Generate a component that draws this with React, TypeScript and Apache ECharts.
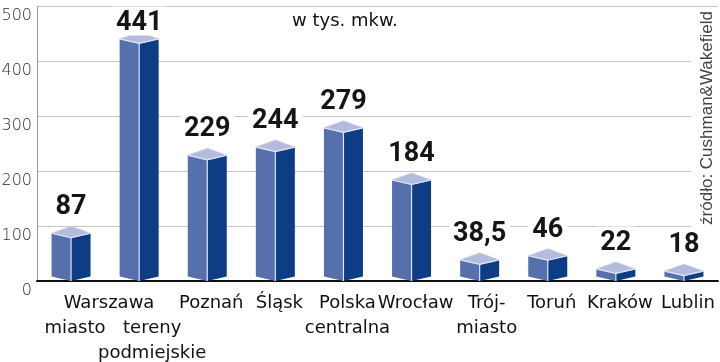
import React, { useEffect, useRef } from "react";
import * as echarts from "echarts";

const categories = [
  "Warszawa miasto",
  "Warszawa tereny podmiejskie",
  "Poznań",
  "Śląsk",
  "Polska centralna",
  "Wrocław",
  "Trójmiasto",
  "Toruń",
  "Kraków",
  "Lublin",
];
const values = [87, 441, 229, 244, 279, 184, 38.5, 46, 22, 18];
const axisLabelLines = [
  ["Warszawa", "miasto"],
  [" ", "tereny", "podmiejskie"],
  ["Poznań"],
  ["Śląsk"],
  ["Polska", "centralna"],
  ["Wrocław"],
  ["Trój-", "miasto"],
  ["Toruń"],
  ["Kraków"],
  ["Lublin"],
];
const yMin = 0;
const yMax = 500;
const yInterval = 100;
const unitText = "w tys. mkw.";
const sourceText = "źródło: Cushman&Wakefield";

const LEFT = "#5670ae";
const RIGHT = "#0c3d85";
const TOP = "#b3bddb";
const EDGE = "#dce4f6";

export default function App() {
  const ref = useRef<HTMLDivElement>(null);
  useEffect(() => {
    if (!ref.current) return;
    const chart = echarts.init(ref.current, null, { renderer: "svg" });
    const W = 19.5;
    const D1 = 4.5;
    const D2 = 7;
    const GAP = 11;
    chart.setOption({
      animation: false,
      grid: {
        left: 37,
        right: 2,
        top: 6.5,
        bottom: 81,
        containLabel: false,
        outerBoundsMode: "none",
      },
      xAxis: {
        type: "category",
        data: categories,
        axisTick: { show: false },
        axisLine: { show: true, lineStyle: { color: "#111", width: 2 } },
        axisLabel: {
          interval: 0,
          margin: 8,
          verticalAlign: "top",
          formatter: (_v: string, idx: number) =>
            axisLabelLines[idx]
              .map((line, li) => {
                let s = "n";
                if (idx === 0 && li === 0) s = "w";
                else if (idx === 1) s = "t";
                else if (idx === 6) s = "m";
                return `{${s}|${line}}`;
              })
              .join("\n"),
          rich: {
            n: { fontFamily: "DejaVu Sans", fontSize: 18, color: "#111", lineHeight: 25, padding: [0, 0, 0, 8] },
            w: { fontFamily: "DejaVu Sans", fontSize: 18, color: "#111", lineHeight: 25, padding: [0, 0, 0, 76] },
            t: { fontFamily: "DejaVu Sans", fontSize: 18, color: "#111", lineHeight: 25, padding: [0, 0, 0, 26] },
            m: { fontFamily: "DejaVu Sans", fontSize: 18, color: "#111", lineHeight: 25, padding: [0, 0, 0, 14] },
          },
        },
      },
      yAxis: {
        type: "value",
        min: yMin,
        max: yMax,
        interval: yInterval,
        axisLine: { show: true, lineStyle: { color: "#9a9a9a", width: 1 } },
        axisTick: { show: false },
        splitLine: { lineStyle: { color: "#c4c4c4", width: 1 } },
        axisLabel: {
          fontFamily: "DejaVu Sans",
          fontWeight: 200,
          fontSize: 16,
          color: "#2a2a2a",
          margin: 5,
          verticalAlign: "top",
        },
      },
      graphic: [
        {
          type: "text",
          left: 292,
          top: 10,
          style: { text: unitText, fontFamily: "DejaVu Sans", fontSize: 18, fill: "#111" },
        },
        {
          type: "text",
          x: 706,
          y: 120,
          rotation: Math.PI / 2,
          style: {
            text: sourceText,
            fontFamily: "Liberation Sans",
            fontSize: 17,
            fill: "#444",
            align: "center",
            verticalAlign: "middle",
            backgroundColor: "#fff",
            padding: [6, 2, 6, 6],
          },
          z: 100,
        },
      ],
      series: [
        {
          type: "custom",
          data: values.map((v, i) => [i, v]),
          encode: { x: 0, y: 1 },
          renderItem: (params: any, api: any) => {
            const idx = api.value(0);
            const v = api.value(1);
            const [cx, yv] = api.coord([idx, v]);
            const [, y0] = api.coord([idx, 0]);
            const label = String(v).replace(".", ",");
            return {
              type: "group",
              children: [
                {
                  type: "polygon",
                  shape: { points: [[cx - W, yv], [cx, yv + D1], [cx, y0], [cx - W, y0 - D1]] },
                  style: { fill: LEFT },
                },
                {
                  type: "polygon",
                  shape: { points: [[cx, yv + D1], [cx + W, yv], [cx + W, y0 - D1], [cx, y0]] },
                  style: { fill: RIGHT },
                },
                {
                  type: "polygon",
                  shape: { points: [[cx - W, yv], [cx, yv - D2], [cx + W, yv], [cx, yv + D1]] },
                  style: { fill: TOP, stroke: "#c9d1ea", lineWidth: 0.8 },
                },
                {
                  type: "polyline",
                  shape: { points: [[cx - W, yv], [cx, yv + D1], [cx + W, yv]] },
                  style: { stroke: EDGE, lineWidth: 1.2, fill: "none" },
                },
                {
                  type: "line",
                  shape: { x1: cx, y1: yv + D1, x2: cx, y2: y0 },
                  style: { stroke: EDGE, lineWidth: 1.2 },
                },
                {
                  type: "text",
                  x: cx,
                  y: Math.max(yv - D2 - GAP - 10, 21),
                  z2: 200,
                  style: {
                    text: label,
                    fontFamily: "Roboto",
                    fontWeight: "bold",
                    fontSize: 27,
                    fill: "#151515",
                    align: "center",
                    verticalAlign: "middle",
                    backgroundColor: "#fff",
                    padding: [1, 4],
                  },
                },
              ],
            };
          },
        },
      ],
    });
    return () => chart.dispose();
  }, []);
  return (
    <div
      ref={ref}
      style={{ position: "fixed", left: 0, top: 0, width: 720, height: 362 }}
    />
  );
}
